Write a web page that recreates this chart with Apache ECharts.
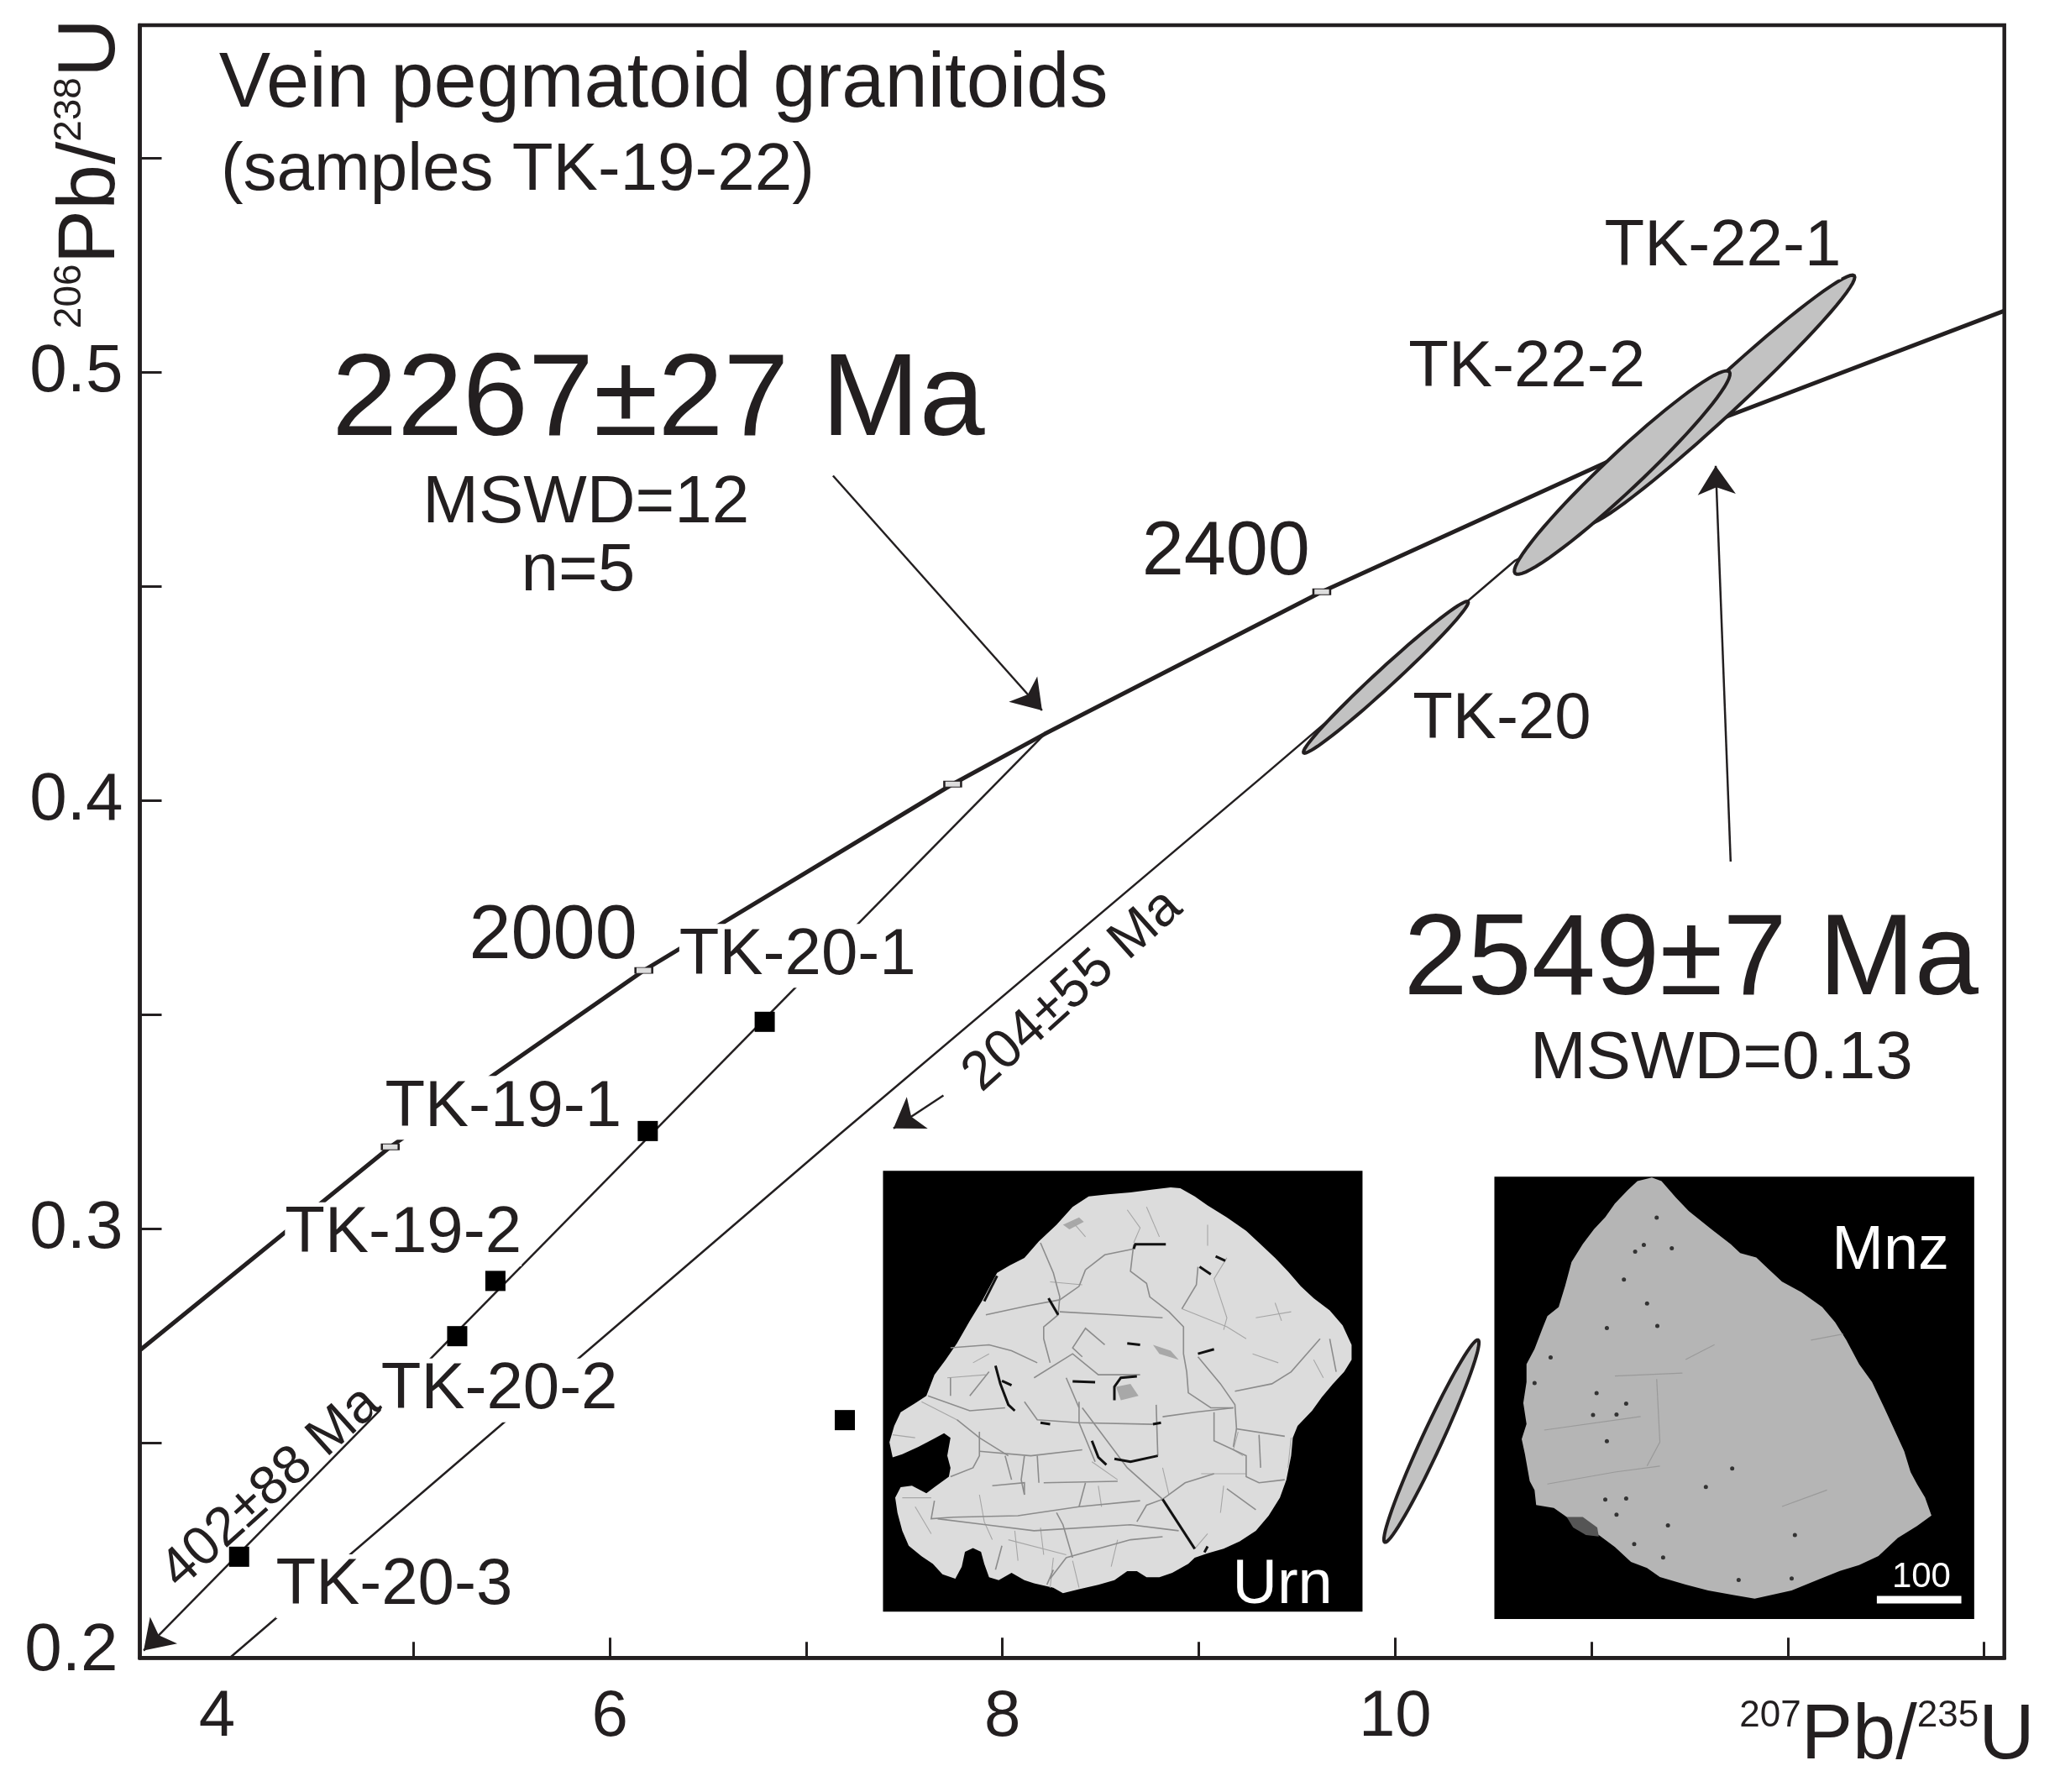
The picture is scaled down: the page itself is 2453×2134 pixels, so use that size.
<!DOCTYPE html>
<html>
<head>
<meta charset="utf-8">
<title>Vein pegmatoid granitoids</title>
<script src="https://cdn.jsdelivr.net/npm/echarts@6/dist/echarts.min.js"></script>
<style>
html, body { margin: 0; padding: 0; background: #fff; }
#chart { width: 2453px; height: 2134px; }
</style>
</head>
<body>
<div id="chart"></div>
<script>
// axes
const xRange = [3.6065, 13.1026]
const yRange = [0.1999, 0.5811]
const xLabelValues = [4, 6, 8, 10]
const xMajorTicks = [6, 8, 10, 12]
const xMinorTicks = [5, 7, 9, 11, 13]
const yLabelValues = [0.2, 0.3, 0.4, 0.5]
const yTicks = [0.25, 0.3, 0.35, 0.4, 0.45, 0.5, 0.55]

// 207Pb/235U, 206Pb/238U
const concordia = [[3.6065, 0.2717], [4.882, 0.3192], [6.1735, 0.3604], [7.7465, 0.4039], [8.2147, 0.4156], [9.6263, 0.4488], [11.0931, 0.4794], [11.6245, 0.4886], [13.1026, 0.5144]]
const discordiaUpper = [[4.0671, 0.2], [7.172, 0.3222], [9.3105, 0.4051], [10.6109, 0.4561], [10.9738, 0.4647]]
const discordiaUpperEnd = [[10.9738, 0.4647], [11.6245, 0.4886]]
const ageTicks = [[4.882, 0.3192], [6.1735, 0.3604], [7.7465, 0.4039], [9.6263, 0.4488]]
const analyses = [[6.7891, 0.3484], [6.1935, 0.3229], [5.4175, 0.2879], [5.223, 0.275], [4.1122, 0.2235], [7.1971, 0.2554]]

// error ellipses, as the two tips of the long axis
const ellipseTips = [
    [12.3383, 0.5226, 10.9738, 0.4647], // TK-22-1
    [11.7016, 0.5002, 10.6109, 0.4531], // TK-22-2
    [10.3712, 0.4465, 9.5341, 0.4112],  // TK-20
    [10.4224, 0.2741, 9.9472, 0.2269]
]
const ellipseWidths = [40, 44, 22, 24]

// from, to
const arrows = [
    [[8.2147, 0.4156], [3.626, 0.2016]],
    [[7.1369, 0.4759], [8.2017, 0.4211]],
    [[11.7087, 0.3858], [11.6325, 0.4782]],
    [[7.6994, 0.3312], [7.4447, 0.3235]]
]

// text, x, y
const sampleLabels = [
    ['TK-20-1', 6.9565, 0.3646],
    ['TK-19-1', 5.4576, 0.3291],
    ['TK-19-2', 4.9483, 0.2996],
    ['TK-20-2', 5.4376, 0.2631],
    ['TK-20-3', 4.9022, 0.2174],
    ['TK-20', 10.5437, 0.4196],
    ['TK-22-1', 11.6686, 0.53],
    ['TK-22-2', 10.671, 0.5018]
]
const ageLabels = [['2400', 9.1381, 0.4585], ['2000', 5.7113, 0.3689]]
const noteLabels = [
    ['MSWD=12', 5.8787, 0.4702],
    ['n=5', 5.8386, 0.4542],
    ['MSWD=0.13', 11.6615, 0.3404],
    ['(samples TK-19-22)', 5.5308, 0.5478]
]
const headLabels = [['Vein pegmatoid granitoids', 6.2737, 0.5678]]
const lowerAgeLabels = [['2267±27 Ma', 6.2477, 0.4941]]
const upperAgeLabels = [['2549±7 Ma', 11.5072, 0.3634]]
const slopeLabels = [['204±55 Ma', 8.3491, 0.3561], ['402±88 Ma', 4.2656, 0.2401]]
const photoLabels = [['Urn', 9.4258, 0.2173], ['Mnz', 12.5228, 0.2953]]
const scaleLabels = [['100', 12.6802, 0.219]]

// BSE photos. Outlines are in the photo's own 0-1568 frame, placed by photo*Frame
const urnFrame = { x: [7.3425, 9.9091], y: [0.3143, 0.2045] }
const urnRect = [30, 10, 1522, 1480]
const urnOutline = [[925,65],[955,68],[1000,95],[1040,125],[1100,165],[1160,210],[1200,250],[1250,300],[1290,345],[1330,395],[1370,435],[1420,475],[1460,525],[1488,590],[1488,640],[1465,680],[1430,720],[1395,765],[1365,810],[1320,860],[1305,900],[1300,960],[1285,1040],[1265,1100],[1230,1160],[1190,1210],[1140,1245],[1090,1270],[1040,1285],[1000,1300],[980,1320],[930,1350],[890,1365],[850,1365],[820,1345],[790,1345],[750,1375],[700,1390],[640,1405],[590,1418],[560,1400],[500,1385],[470,1375],[430,1350],[390,1375],[360,1365],[345,1320],[335,1280],[310,1268],[285,1280],[275,1330],[255,1370],[215,1355],[185,1320],[150,1295],[110,1260],[90,1210],[75,1150],[68,1100],[85,1065],[120,1060],[165,1085],[190,1065],[235,1030],[240,1000],[230,960],[240,900],[220,885],[185,905],[140,930],[90,955],[60,965],[50,915],[65,860],[85,815],[130,785],[165,760],[190,690],[225,640],[260,585],[300,510],[340,440],[385,350],[425,325],[470,300],[515,245],[570,190],[620,130],[670,95],[730,88],[800,82],[870,72]]
const urnBlotches = [[[590,190],[640,165],[655,180],[610,205]], [[870,590],[925,610],[950,640],[890,620]], [[755,730],[800,720],[825,760],[770,775]]]
const urnCracks = [
    [[520,250],[560,350],[580,430],[575,490],[530,530],[530,570],[550,650]],
    [[810,255],[800,345],[850,385],[860,430],[920,480],[965,530],[965,620],[975,680],[980,750],[1050,800],[1120,800]],
    [[1010,330],[1005,390],[960,470]],
    [[660,340],[640,395],[580,440],[480,460],[350,490]],
    [[810,270],[720,290],[660,340]],
    [[1010,630],[1080,720],[1125,790],[1130,870],[1280,895]],
    [[1125,745],[1240,720],[1300,680],[1390,570]],
    [[1420,570],[1440,680]],
    [[880,790],[885,960]],
    [[1120,800],[1000,815],[900,830]],
    [[330,945],[490,960],[650,940]],
    [[640,780],[640,850],[690,980]],
    [[650,800],[790,1000],[900,1105]],
    [[1060,815],[1060,910],[1160,960],[1160,1030],[1200,1050],[1280,1040]],
    [[1130,870],[1120,930]],
    [[1200,890],[1205,1000]],
    [[530,1050],[760,1045]],
    [[660,1050],[640,1130]],
    [[190,1110],[180,1170],[250,1165],[450,1160],[640,1130],[830,1110]],
    [[200,1170],[350,1190],[500,1210],[800,1190],[950,1210]],
    [[370,1060],[470,1050],[470,1090]],
    [[330,880],[330,960],[310,1000],[240,1030]],
    [[260,840],[330,900],[420,960]],
    [[470,960],[460,1040],[470,1090]],
    [[510,960],[515,1050]],
    [[410,960],[430,1040]],
    [[170,760],[300,810],[410,800]],
    [[240,600],[360,590],[430,610],[510,650]],
    [[240,700],[240,760]],
    [[360,680],[300,760]],
    [[580,480],[750,490],[900,500]],
    [[650,630],[620,600],[660,535],[720,590]],
    [[500,700],[620,620],[700,690],[830,690]],
    [[600,700],[640,800]],
    [[470,780],[510,840],[640,850],[870,855]],
    [[550,1370],[600,1300],[800,1240],[900,1230]],
    [[620,1300],[590,1190],[570,1150]],
    [[400,1260],[380,1340]],
    [[820,1180],[850,1125],[900,1105],[970,1050],[1060,1020]],
    [[1100,1070],[1190,1140]],
    [[560,1340],[540,1390]]
]
const urnFineCracks = [
    [[790,140],[830,200],[810,250]],
    [[850,130],[890,230]],
    [[620,180],[660,230]],
    [[1040,190],[1040,260]],
    [[1100,300],[1060,370],[1100,500],[1090,540]],
    [[1250,450],[1270,510]],
    [[960,470],[1100,530],[1160,570]],
    [[1190,500],[1300,480]],
    [[550,380],[650,390]],
    [[1180,620],[1260,650]],
    [[1370,640],[1400,700]],
    [[1135,880],[1120,940],[1150,960]],
    [[1300,900],[1290,1000]],
    [[900,1000],[920,1090]],
    [[1020,1020],[1160,1020]],
    [[1090,1060],[1080,1150]],
    [[680,980],[760,1040]],
    [[1000,1270],[1040,1220]],
    [[330,1090],[345,1180],[370,1240]],
    [[130,1130],[180,1220]],
    [[520,1200],[530,1290]],
    [[440,1210],[450,1310]],
    [[700,1060],[710,1130]],
    [[420,1240],[600,1290]],
    [[740,1330],[760,1240]],
    [[560,1300],[550,1400]],
    [[620,1310],[640,1400]],
    [[90,1100],[180,1100]],
    [[60,890],[130,900]],
    [[150,780],[260,840]],
    [[310,650],[360,620]],
    [[230,700],[350,690]]
]
const urnDarkCracks = [
    [[810,270],[815,255],[910,255]],
    [[380,660],[395,720],[420,790],[440,810]],
    [[400,710],[430,725]],
    [[620,712],[690,715]],
    [[750,775],[750,730],[770,700],[820,695]],
    [[750,970],[800,980],[885,960]],
    [[680,910],[700,965],[725,990]],
    [[870,855],[895,850]],
    [[1010,620],[1060,605]],
    [[790,585],[830,590]],
    [[520,850],[550,855]],
    [[345,445],[385,360]],
    [[545,435],[575,490]],
    [[1015,330],[1050,355]],
    [[1065,295],[1095,310]],
    [[900,1105],[1000,1270]],
    [[1040,1262],[1030,1282]]
]

const mnzFrame = { x: [10.4645, 13.0311], y: [0.3133, 0.2035] }
const mnzRect = [25, 15, 1518, 1490]
const mnzScaleBar = [1215, 1413, 1478, 1438]
const mnzOutline = [[515,18],[545,30],[590,85],[630,130],[700,190],[760,240],[790,270],[840,285],[880,325],[920,365],[980,400],[1045,450],[1085,500],[1120,560],[1160,640],[1200,700],[1240,790],[1270,860],[1300,930],[1320,1000],[1340,1040],[1365,1085],[1385,1145],[1340,1180],[1280,1220],[1220,1280],[1160,1310],[1100,1330],[1030,1360],[950,1395],[835,1422],[770,1410],[690,1395],[620,1375],[540,1350],[500,1320],[450,1300],[400,1250],[350,1210],[300,1190],[250,1150],[210,1120],[155,1110],[150,1060],[135,1030],[120,940],[110,890],[125,840],[115,770],[125,700],[125,640],[150,590],[175,520],[190,480],[225,450],[245,380],[265,300],[300,240],[335,190],[370,150],[400,105],[440,60],[470,30]]
const mnzPatch = [[250,1150],[300,1150],[345,1185],[350,1215],[310,1210],[270,1185]]
const mnzCracks = [
    [[190,1040],[400,1000],[540,980]],
    [[530,690],[540,900],[500,980]],
    [[400,680],[610,670]],
    [[180,860],[480,815]],
    [[620,625],[710,575]],
    [[1010,560],[1110,540]],
    [[920,1115],[1060,1060]]
]
const mnzPits = [[428,358],[530,152],[375,520],[532,513],[200,618],[460,1240],[550,1285],[785,1360],[370,1092],[435,1088],[375,897],[500,438],[490,243],[463,265],[577,254],[332,810],[343,737],[405,808],[435,772],[150,703],[960,1210],[950,1355],[765,988],[683,1050],[405,1142],[565,1178]]

const ink = '#231f20'
const fontFamily = 'Liberation Sans'

function photoElements (api, frame, rect, outline, fill) {
    const at = ([px, py]) => api.coord([
        frame.x[0] + px / 1568 * (frame.x[1] - frame.x[0]),
        frame.y[0] + py / 1568 * (frame.y[1] - frame.y[0])
    ])
    const box = (r, color) => ({
        type: 'polygon',
        shape: { points: [[r[0], r[1]], [r[2], r[1]], [r[2], r[3]], [r[0], r[3]]].map(at) },
        style: { fill: color }
    })
    const poly = (pts, color) => ({ type: 'polygon', shape: { points: pts.map(at) }, style: { fill: color } })
    const path = (pts, color, width) => ({
        type: 'polyline',
        shape: { points: pts.map(at) },
        style: { stroke: color, fill: null, lineWidth: width }
    })
    return { at, box, poly, path, base: [box(rect, '#000'), poly(outline, fill)] }
}

function renderPhotos (params, api) {
    const urn = photoElements(api, urnFrame, urnRect, urnOutline, '#dcdcdc')
    const mnz = photoElements(api, mnzFrame, mnzRect, mnzOutline, '#b5b5b5')
    const children = [
        ...urn.base,
        ...urnBlotches.map(b => urn.poly(b, '#a8a8a8')),
        ...urnFineCracks.map(c => urn.path(c, '#a6a6a6', 1.1)),
        ...urnCracks.map(c => urn.path(c, '#8c8c8c', 1.6)),
        ...urnDarkCracks.map(c => urn.path(c, '#111', 3)),
        ...mnz.base,
        mnz.poly(mnzPatch, '#555'),
        ...mnzCracks.map(c => mnz.path(c, '#9a9a9a', 1.2)),
        ...mnzPits.map(p => {
            const c = mnz.at(p)
            return { type: 'circle', shape: { cx: c[0], cy: c[1], r: 2.5 }, style: { fill: '#333' } }
        }),
        mnz.box(mnzScaleBar, '#fff')
    ]
    return { type: 'group', children }
}

function renderEllipse (params, api) {
    const a = api.coord([api.value(0), api.value(1)])
    const b = api.coord([api.value(2), api.value(3)])
    const cx = (a[0] + b[0]) / 2
    const cy = (a[1] + b[1]) / 2
    const half = Math.hypot(a[0] - b[0], a[1] - b[1]) / 2
    const angle = Math.atan2(a[1] - b[1], a[0] - b[0])
    const minor = ellipseWidths[params.dataIndex] / 2
    const points = []
    for (let i = 0; i < 72; i++) {
        const t = i / 72 * Math.PI * 2
        const u = half * Math.cos(t)
        const v = minor * Math.sin(t)
        points.push([cx + u * Math.cos(angle) - v * Math.sin(angle), cy + u * Math.sin(angle) + v * Math.cos(angle)])
    }
    return { type: 'polygon', shape: { points }, style: { fill: '#c2c2c2', stroke: ink, lineWidth: 4 } }
}

function textSeries (rows, label) {
    return {
        type: 'scatter',
        z: 10,
        symbolSize: 1,
        clip: false,
        itemStyle: { color: 'rgba(0,0,0,0)', opacity: 1 },
        silent: true,
        data: rows.map(r => ({ value: [r[1], r[2]], name: r[0] })),
        label: {
            show: true,
            position: 'inside',
            formatter: '{b}',
            align: 'center',
            verticalAlign: 'middle',
            fontFamily,
            color: ink,
            offset: [0, Math.round(label.fontSize * 0.045)],
            ...label
        }
    }
}

function lineSeries (data, width) {
    return { type: 'line', z: 3, data, symbol: 'none', silent: true, lineStyle: { color: ink, width } }
}

const chart = echarts.init(document.getElementById('chart'))
chart.setOption({
    animation: false,
    backgroundColor: '#fff',
    textStyle: { fontFamily },
    grid: { left: 166.5, top: 30, width: 2220.2, height: 1944.2, show: true, borderColor: ink, borderWidth: 4.5, backgroundColor: 'transparent' },
    xAxis: [
        {
            type: 'value',
            min: xRange[0],
            max: xRange[1],
            splitLine: { show: false },
            axisLine: { onZero: false, lineStyle: { color: ink, width: 4.5 } },
            axisTick: { inside: true, length: 24, customValues: xMajorTicks, lineStyle: { color: ink, width: 3 } },
            axisLabel: { customValues: xLabelValues, margin: 32, fontSize: 78, color: ink, fontFamily },
            name: '{sup|207}{big|Pb/}{sup|235}{big|U}',
            nameLocation: 'end',
            nameGap: 36,
            nameTextStyle: {
                align: 'right',
                verticalAlign: 'top',
                padding: [48, 0, 0, 0],
                rich: {
                    big: { fontSize: 92, color: ink, fontFamily },
                    sup: { fontSize: 44, color: ink, fontFamily, verticalAlign: 'top' }
                }
            }
        },
        {
            type: 'value',
            min: xRange[0],
            max: xRange[1],
            position: 'bottom',
            splitLine: { show: false },
            axisLine: { show: false },
            axisLabel: { show: false },
            axisTick: { inside: true, length: 19, customValues: xMinorTicks, lineStyle: { color: ink, width: 3 } }
        }
    ],
    yAxis: {
        type: 'value',
        min: yRange[0],
        max: yRange[1],
        splitLine: { show: false },
        axisLine: { onZero: false, lineStyle: { color: ink, width: 4.5 } },
        axisTick: { inside: true, length: 26, customValues: yTicks, lineStyle: { color: ink, width: 3 } },
        axisLabel: {
            customValues: yLabelValues,
            margin: 20,
            fontSize: 80,
            color: ink,
            fontFamily,
            formatter: v => v === 0.2 ? '{low|0.2}' : v.toFixed(1),
            rich: { low: { fontSize: 80, color: ink, fontFamily, padding: [0, 6, 14, 0] } }
        },
        name: '{sup|206}{big|Pb/}{sup|238}{big|U}',
        nameLocation: 'end',
        nameRotate: 90,
        nameGap: 8,
        nameTextStyle: {
            align: 'right',
            verticalAlign: 'bottom',
            padding: [0, 0, 9, 0],
            rich: {
                big: { fontSize: 97, color: ink, fontFamily },
                sup: { fontSize: 46, color: ink, fontFamily, verticalAlign: 'top' }
            }
        }
    },
    series: [
        { type: 'custom', z: 1, renderItem: renderPhotos, data: [[0, 0]], clip: false, silent: true },
        lineSeries(concordia, 5),
        lineSeries(discordiaUpper, 2.5),
        lineSeries(discordiaUpperEnd, 5),
        {
            type: 'lines',
            z: 4,
            coordinateSystem: 'cartesian2d',
            silent: true,
            symbol: ['none', 'arrow'],
            symbolSize: 34,
            lineStyle: { color: ink, width: 2.5, opacity: 1, curveness: 0 },
            data: arrows.map(coords => ({ coords }))
        },
        {
            type: 'custom',
            z: 5,
            renderItem: renderEllipse,
            data: ellipseTips,
            encode: { x: [0, 2], y: [1, 3] },
            clip: false,
            silent: true
        },
        {
            type: 'scatter',
            z: 6,
            data: ageTicks,
            symbol: 'rect',
            symbolSize: [20, 7],
            silent: true,
            itemStyle: { color: '#ddd', borderColor: ink, borderWidth: 1.5, opacity: 1 }
        },
        {
            type: 'scatter',
            z: 6,
            data: analyses,
            symbol: 'rect',
            symbolSize: 24,
            silent: true,
            itemStyle: { color: '#000', opacity: 1 }
        },
        textSeries(sampleLabels, { fontSize: 78, lineHeight: 76, backgroundColor: '#fff' }),
        textSeries(ageLabels, { fontSize: 90 }),
        textSeries(noteLabels, { fontSize: 80 }),
        textSeries(headLabels, { fontSize: 92 }),
        textSeries(lowerAgeLabels, { fontSize: 140 }),
        textSeries(upperAgeLabels, { fontSize: 137 }),
        textSeries(slopeLabels, { fontSize: 65, rotate: 42 }),
        textSeries(photoLabels, { fontSize: 74, color: '#fff' }),
        textSeries(scaleLabels, { fontSize: 42, color: '#fff' })
    ]
})
</script>
</body>
</html>
